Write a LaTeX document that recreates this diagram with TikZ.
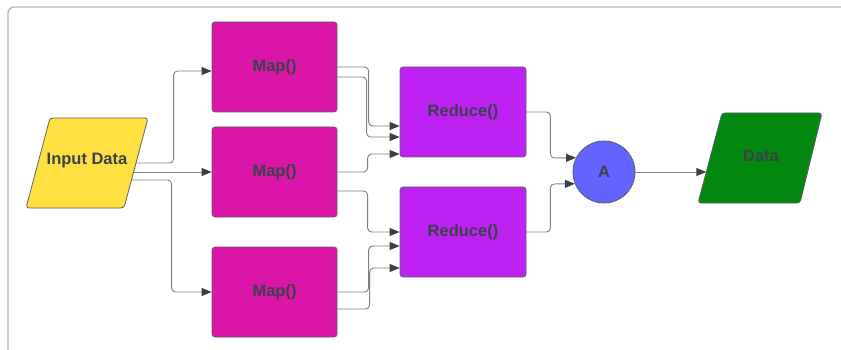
\documentclass[tikz,border=0pt]{standalone}
\usepackage{fontspec}
\setmainfont{Liberation Sans}
\usetikzlibrary{arrows.meta,calc}
\definecolor{txtc}{HTML}{3A414A}
\definecolor{linec}{HTML}{7C8088}
\definecolor{tipc}{HTML}{39404A}
\definecolor{edgec}{HTML}{5A5F66}
\definecolor{framec}{HTML}{B5B7BA}
\definecolor{yel}{HTML}{FFE040}
\definecolor{mag}{HTML}{D916A8}
\definecolor{pur}{HTML}{BD22F2}
\definecolor{blu}{HTML}{6363FF}
\definecolor{grn}{HTML}{03880F}
\tikzset{
  box/.style={draw=edgec, line width=0.8pt, rounded corners=3pt, minimum width=125pt, minimum height=90pt, inner sep=0pt,
    font=\fontsize{16.5pt}{18pt}\selectfont\bfseries, text=txtc},
  mapbox/.style={box, fill=mag},
  redbox/.style={box, fill=pur, minimum width=126pt},
  para/.style={draw=edgec, line width=0.8pt, rounded corners=3pt},
  lbl/.style={inner sep=0pt, font=\fontsize{16.5pt}{18pt}\selectfont\bfseries, text=txtc},
  conn/.style={draw=linec, line width=0.9pt, rounded corners=4pt, -{Triangle[length=10pt,width=8pt,color=tipc]}}
}
\begin{document}
\begin{tikzpicture}[x=1pt,y=-1pt]
\useasboundingbox (0,0) rectangle (841,350);
\clip (0,0) rectangle (841,350);
\draw[framec, line width=1.4pt, rounded corners=6pt] (8,7) rectangle (870,380);

% Input Data parallelogram
\draw[para, fill=yel] (50,118) -- (148,118) -- (124,208) -- (26,208) -- cycle;
\node[lbl] (in) at (87,161) {Input Data};
\coordinate (i1) at (136,163);
\coordinate (i2) at (133.6,172);
\coordinate (i3) at (131.5,180);

% Map boxes
\node[mapbox] (map1) at (274.5,67) {Map()};
\node[mapbox] (map2) at (274.5,172) {Map()};
\node[mapbox] (map3) at (274.5,292) {Map()};

% Reduce boxes
\node[redbox] (red1) at (463,112) {Reduce()};
\node[redbox] (red2) at (463,232) {Reduce()};

% Circle A
\node[circle, draw=edgec, line width=0.8pt, fill=blu, minimum size=62pt, inner sep=0pt, font=\fontsize{16.5pt}{18pt}\selectfont\bfseries, text=txtc] (A) at (604,172) {A};

% Data parallelogram
\draw[para, fill=grn] (722,113) -- (822,113) -- (800,203) -- (698,203) -- cycle;
\node[lbl] (data) at (761,156) {Data};
\coordinate (dIn) at (706.3,172);

% Input -> Map
\draw[conn] (i1) -| ($(map1.west)+(-38,4)$) -- ($(map1.west)+(0,4)$);
\draw[conn] (i2) -- (map2.west);
\draw[conn] (i3) -| ($(map3.west)+(-40,0)$) -- (map3.west);

% Map -> Reduce
\draw[conn] (map1.east) -| ($(red1.west)+(-31,14)$) -- ($(red1.west)+(0,14)$);
\draw[conn] ($(map1.east)+(0,10)$) -| ($(red1.west)+(-33,25)$) -- ($(red1.west)+(0,25)$);
\draw[conn] (map2.east) -| ($(red1.west)+(-32,42)$) -- ($(red1.west)+(0,42)$);
\draw[conn] ($(map2.east)+(0,19)$) -| ($(red2.west)+(-32,0)$) -- (red2.west);
\draw[conn] (map3.east) -| ($(red2.west)+(-31,14)$) -- ($(red2.west)+(0,14)$);
\draw[conn] ($(map3.east)+(0,17)$) -| ($(red2.west)+(-30,36)$) -- ($(red2.west)+(0,36)$);

% Reduce -> A
\draw[conn] (red1.east) -| ($(red1.east)+(24,46)$) -- (A.153);
\draw[conn] (red2.east) -| ($(red2.east)+(24,-48)$) -- (A.202);

% A -> Data
\draw[conn] (A.east) -- (dIn);
\end{tikzpicture}
\end{document}
